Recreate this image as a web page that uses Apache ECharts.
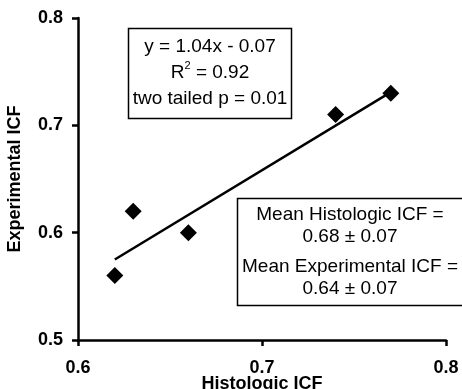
<!DOCTYPE html>
<html>
<head>
<meta charset="utf-8">
<script src="https://cdn.jsdelivr.net/npm/echarts@6/dist/echarts.min.js"></script>
<style>
    html, body { margin: 0; padding: 0; background: #fff; }
    #icfChart { width: 462px; height: 389px; }
</style>
</head>
<body>
<div id="icfChart"></div>
<script>
// histologic vs experimental ICF
const histologic = [0.62, 0.63, 0.66, 0.74, 0.77];
const experimental = [0.56, 0.62, 0.60, 0.71, 0.73];
// fit line y = 1.04x - 0.07, drawn between the x range of the data
const fitX = [0.62, 0.77];
const fitY = [0.575, 0.731];
const xTicks = [0.6, 0.7, 0.8];
const yTicks = [0.5, 0.6, 0.7, 0.8];
const statsLines = ["y = 1.04x - 0.07", "R{sup|2} = 0.92", "two tailed p = 0.01"];
const meanHisto = ["Mean Histologic ICF =", "0.68 ± 0.07"];
const meanExper = ["Mean Experimental ICF =", "0.64 ± 0.07"];

const font = "'Liberation Sans', Arial, sans-serif";

let chartOption = {
    animation: false,
    grid: {
        left: 78,
        right: 16,
        top: 18,
        bottom: 49,
        outerBoundsMode: "none",
    },
    xAxis: {
        type: "value",
        min: xTicks[0],
        max: xTicks[xTicks.length - 1],
        interval: 0.1,
        name: "Histologic ICF",
        nameLocation: "middle",
        nameGap: 35,
        nameMoveOverlap: false,
        nameTextStyle: {
            fontFamily: font,
            fontWeight: "bold",
            fontSize: 18,
            color: "#000",
            verticalAlign: "top",
        },
        axisLine: { show: true, lineStyle: { color: "#000", width: 2.5 } },
        axisTick: { show: true, length: 6, lineStyle: { color: "#000", width: 2.5 } },
        splitLine: { show: false },
        axisLabel: {
            margin: 19,
            fontFamily: font,
            fontWeight: "bold",
            fontSize: 18,
            color: "#000",
            formatter: (v) => v.toFixed(1),
        },
    },
    yAxis: {
        type: "value",
        min: yTicks[0],
        max: yTicks[yTicks.length - 1],
        interval: 0.1,
        name: "Experimental ICF",
        nameLocation: "middle",
        nameGap: 54,
        nameRotate: 90,
        nameMoveOverlap: false,
        nameTextStyle: {
            fontFamily: font,
            fontWeight: "bold",
            fontSize: 18,
            color: "#000",
        },
        axisLine: { show: true, lineStyle: { color: "#000", width: 2.5 } },
        axisTick: { show: true, length: 6, lineStyle: { color: "#000", width: 2.5 } },
        splitLine: { show: false },
        axisLabel: {
            margin: 15,
            fontFamily: font,
            fontWeight: "bold",
            fontSize: 18,
            color: "#000",
            formatter: (v) => v.toFixed(1),
        },
    },
    series: [
        {
            name: "fit",
            type: "line",
            data: fitX.map((x, i) => [x, fitY[i]]),
            showSymbol: false,
            lineStyle: { color: "#000", width: 2.5 },
            z: 2,
        },
        {
            name: "ICF",
            type: "scatter",
            data: histologic.map((x, i) => [x, experimental[i]]),
            symbol: "diamond",
            symbolSize: [17, 17],
            itemStyle: { color: "#000", opacity: 1 },
            z: 3,
        },
    ],
    graphic: [
        {
            type: "rect",
            shape: { x: 128.5, y: 28.5, width: 163, height: 90 },
            style: { fill: "#fff", stroke: "#000", lineWidth: 1.5 },
            z: 10,
        },
        {
            type: "text",
            x: 210,
            y: 34,
            style: {
                text: statsLines.join("\n"),
                rich: { sup: { fontSize: 11, verticalAlign: "top", padding: [0, 0, 8, 0] } },
                font: "19px " + font,
                fill: "#000",
                align: "center",
                lineHeight: 26,
            },
            z: 11,
        },
        {
            type: "rect",
            shape: { x: 237.5, y: 198.5, width: 240, height: 107 },
            style: { fill: "#fff", stroke: "#000", lineWidth: 1.5 },
            z: 10,
        },
        {
            type: "text",
            x: 350,
            y: 204,
            style: {
                text: meanHisto.join("\n"),
                font: "19px " + font,
                fill: "#000",
                align: "center",
                lineHeight: 22,
            },
            z: 11,
        },
        {
            type: "text",
            x: 350,
            y: 256,
            style: {
                text: meanExper.join("\n"),
                font: "19px " + font,
                fill: "#000",
                align: "center",
                lineHeight: 22,
            },
            z: 11,
        },
    ],
};

let chartDom = document.getElementById("icfChart");
let myChart = echarts.init(chartDom);
myChart.setOption(chartOption);
</script>
</body>
</html>
